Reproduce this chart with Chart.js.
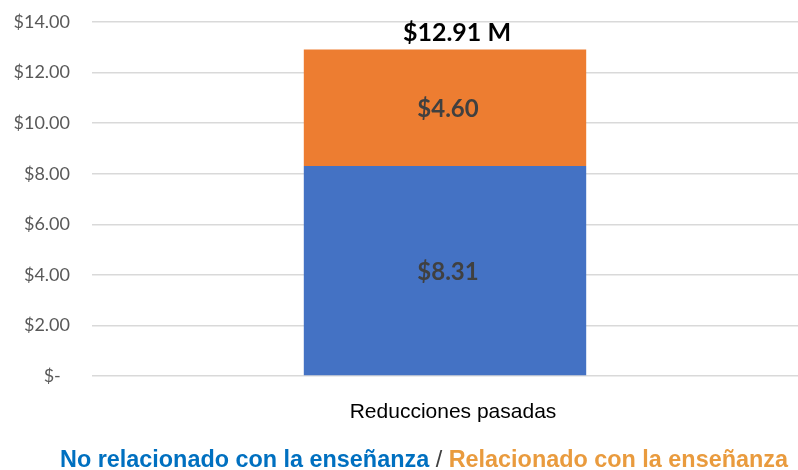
<!DOCTYPE html>
<html><head><meta charset="utf-8">
<script src="https://cdn.jsdelivr.net/npm/chart.js@4.4.0/dist/chart.umd.min.js"></script>
<style>
html,body{margin:0;padding:0;background:#fff;overflow:hidden;width:798px;height:470px;}
#wrap{position:absolute;left:0;top:0;width:798px;height:470px;}
#legend{position:absolute;left:60px;top:446px;white-space:nowrap;font-family:"Liberation Sans",Arial,sans-serif;font-weight:bold;font-size:23.4px;}
#legend .a{color:#0070C0}#legend .s{color:#404040;font-weight:normal}#legend .b{color:#E99B3E}
</style></head><body>
<div id="wrap"><canvas id="c" width="798" height="470"></canvas></div>
<div id="legend"><span class="a">No relacionado con la enseñanza</span><span class="s"> / </span><span class="b">Relacionado con la enseñanza</span></div>
<script>
const categories = ["Reducciones pasadas"];
const seriesNames = ["No relacionado con la enseñanza", "Relacionado con la enseñanza"];
const noRelacionado = [8.31];
const relacionado = [4.60];
const totals = [12.91];
const yTicks = [0, 2, 4, 6, 8, 10, 12, 14];

const labelPlugin = {
  id: 'labels',
  afterDatasetsDraw(chart) {
    const ctx = chart.ctx;
    ctx.save();
    ctx.textAlign = 'center';
    ctx.textBaseline = 'middle';
    chart.data.datasets.forEach((ds, di) => {
      const meta = chart.getDatasetMeta(di);
      meta.data.forEach((bar, i) => {
        const v = ds.data[i];
        ctx.font = 'bold 24px Lato, "Open Sans", sans-serif';
        ctx.fillStyle = '#404040';
        ctx.fillText('$' + v.toFixed(2), bar.x + 3, (bar.y + bar.base) / 2 + 2);
      });
    });
    const ys = chart.scales.y;
    const xs = chart.scales.x;
    totals.forEach((t, i) => {
      ctx.font = 'bold 25px Lato, "Open Sans", sans-serif';
      ctx.fillStyle = '#000';
      ctx.fillText('$' + t.toFixed(2) + ' M', xs.getPixelForValue(i) + 12, ys.getPixelForValue(t) - 17);
    });
    ctx.restore();
  }
};

new Chart(document.getElementById('c'), {
  type: 'bar',
  data: {
    labels: categories,
    datasets: [
      { label: seriesNames[0], data: noRelacionado, backgroundColor: '#4472C4', barPercentage: 0.4, categoryPercentage: 1 },
      { label: seriesNames[1], data: relacionado, backgroundColor: '#ED7D31', barPercentage: 0.4, categoryPercentage: 1 }
    ]
  },
  options: {
    responsive: false,
    animation: false,
    layout: { padding: { top: 0, right: 0, bottom: 0, left: 13 } },
    plugins: { legend: { display: false }, tooltip: { enabled: false } },
    scales: {
      x: {
        stacked: true,
        grid: { display: false, drawTicks: false },
        border: { display: false },
        ticks: { color: '#000', padding: 24, labelOffset: 8, font: { family: '"Liberation Sans", Arial', size: 21 } },
        afterFit(s) { s.height = 94; }
      },
      y: {
        stacked: true,
        min: 0, max: 14,
        afterBuildTicks(s) { s.ticks = yTicks.map(v => ({ value: v })); },
        afterFit(s) { s.width = 79; s.paddingTop = 22; s.paddingBottom = 10; },
        grid: { color: '#d9d9d9', lineWidth: 1.5, drawTicks: false },
        border: { display: false },
        ticks: {
          color: '#595959', padding: 22,
          font: { family: 'Lato, "Open Sans", sans-serif', size: 18 },
          callback: v => v === 0 ? '$-  ' : '$' + v.toFixed(2)
        }
      }
    }
  },
  plugins: [labelPlugin]
});
</script>
</body></html>
